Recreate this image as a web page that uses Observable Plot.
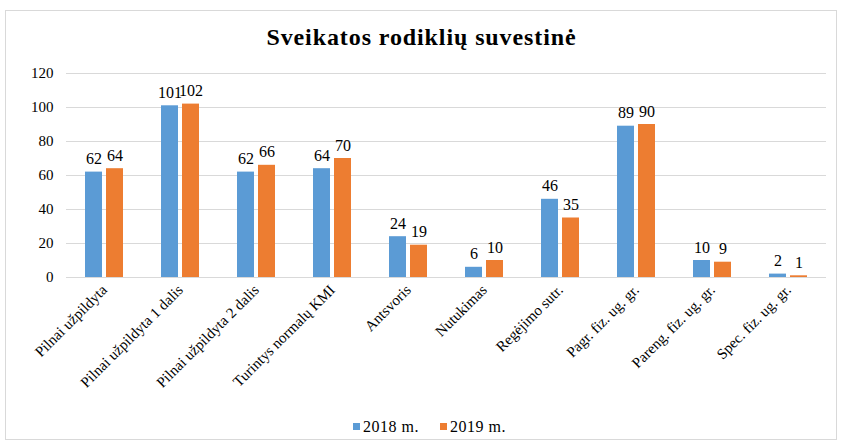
<!DOCTYPE html>
<html>
<head>
<meta charset="utf-8">
<script src="https://cdn.jsdelivr.net/npm/d3@7"></script>
<script src="https://cdn.jsdelivr.net/npm/@observablehq/plot@0.6"></script>
<style>
  html, body { margin: 0; padding: 0; background: #fff; }
  #wrap { position: relative; width: 841px; height: 447px; overflow: hidden; font-family: 'Liberation Serif', 'Times New Roman', serif; }
  #frame { position: absolute; left: 5px; top: 10px; width: 832px; height: 430px; border: 1px solid #d9d9d9; box-sizing: border-box; }
  #title { position: absolute; left: 0; width: 843px; top: 23px; text-align: center; font-weight: bold; font-size: 24px; letter-spacing: 0.9px; color: #000; line-height: 28px; }
  #chart { position: absolute; left: 0; top: 0; }
  #chart svg text { font-family: 'Liberation Serif', 'Times New Roman', serif; }
  #legend { position: absolute; top: 417px; left: 9px; width: 841px; display: flex; justify-content: center; gap: 21px; font-size: 16px; letter-spacing: 0.5px; color: #000; line-height: 19px; }
  .item { display: flex; align-items: center; gap: 3px; }
  .sw { width: 7px; height: 7px; display: inline-block; }
</style>
</head>
<body>
<div id="wrap">
  <div id="frame"></div>
  <div id="chart"></div>
  <div id="title">Sveikatos rodiklių suvestinė</div>
  <div id="legend"></div>
</div>
<script>
const categories = [
  "Pilnai užpildyta",
  "Pilnai užpildyta 1 dalis",
  "Pilnai užpildyta 2 dalis",
  "Turintys normalų KMI",
  "Antsvoris",
  "Nutukimas",
  "Regėjimo sutr.",
  "Pagr. fiz. ug. gr.",
  "Pareng. fiz. ug. gr.",
  "Spec. fiz. ug. gr."
];
const years = ["2018 m.", "2019 m."];
const values2018 = [62, 101, 62, 64, 24, 6, 46, 89, 10, 2];
const values2019 = [64, 102, 66, 70, 19, 10, 35, 90, 9, 1];
const yTicks = [0, 20, 40, 60, 80, 100, 120];
const colors = ["#5B9BD5", "#ED7D31"];

const data = categories.flatMap((c, i) => [
  {category: c, year: years[0], value: values2018[i]},
  {category: c, year: years[1], value: values2019[i]}
]);

const chart = Plot.plot({
  width: 841,
  height: 447,
  marginTop: 73,
  marginBottom: 170,
  marginLeft: 65,
  marginRight: 14,
  style: {fontFamily: "'Liberation Serif', 'Times New Roman', serif", fontSize: "14px", color: "#000", background: "transparent", overflow: "visible"},
  fx: {domain: categories, padding: 0, label: null},
  x: {domain: years, paddingInner: 0.19, paddingOuter: 0.86, axis: null},
  y: {domain: [0, 120], label: null},
  color: {domain: years, range: colors},
  marks: [
    Plot.ruleY(yTicks, {stroke: "#d9d9d9", strokeOpacity: 1, strokeWidth: 1}),
    Plot.barY(data, {fx: "category", x: "year", y: "value", fill: "year"}),
    Plot.text(data, {fx: "category", x: "year", y: "value", text: d => String(d.value), lineAnchor: "bottom", dy: -8, fontSize: 16, fill: "#000"}),
    Plot.axisY({ticks: yTicks, tickSize: 0, tickPadding: 13, fontSize: 15, label: null}),
    Plot.axisFx({anchor: "bottom", tickRotate: -45, tickSize: 0, tickPadding: 10, fontSize: 15, label: null})
  ]
});
document.getElementById("chart").appendChild(chart);

const legend = document.getElementById("legend");
years.forEach((y, i) => {
  const it = document.createElement("div");
  it.className = "item";
  const sw = document.createElement("span");
  sw.className = "sw";
  sw.style.background = colors[i];
  const t = document.createElement("span");
  t.textContent = y;
  it.appendChild(sw);
  it.appendChild(t);
  legend.appendChild(it);
});
</script>
</body>
</html>
